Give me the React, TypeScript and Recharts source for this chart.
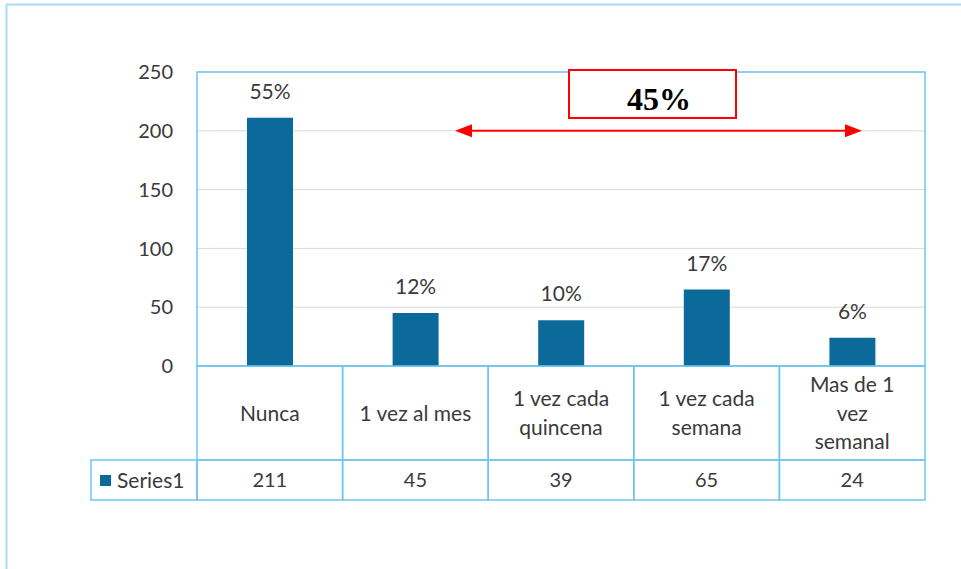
import React from "react";
import { BarChart, Bar, XAxis, YAxis, CartesianGrid, LabelList } from "recharts";

const categories = ["Nunca", "1 vez al mes", "1 vez cada quincena", "1 vez cada semana", "Mas de 1 vez semanal"];
const categoryLines = [["Nunca"], ["1 vez al mes"], ["1 vez cada", "quincena"], ["1 vez cada", "semana"], ["Mas de 1", "vez", "semanal"]];
const series1 = [211, 45, 39, 65, 24];
const percentLabels = ["55%", "12%", "10%", "17%", "6%"];
const yTicks = [0, 50, 100, 150, 200, 250];
const seriesName = "Series1";
const bracketLabel = "45%";

const data = categories.map((c, i) => ({ name: c, value: series1[i], pct: percentLabels[i] }));

const W = 961;
const H = 569;
const PL = 197;
const PT = 72;
const PR = 925;
const PB = 366;
const PW = PR - PL;
const YW = 60;
const XH = 134;
const ROW1_H = 94;
const ROW2_H = 40;
const LEG_L = 91;

const BAR = "#0b6a9a";
const BORDER = "#6ec6ef";
const TXT = "#3a3a3a";
const FONT = "Lato, 'Open Sans', sans-serif";
const FS = 20;
const FS_T = 21;

const TableTick = (props: any) => {
  const { x, payload } = props;
  const idx = categories.indexOf(payload.value);
  const colW = PW / categories.length;
  const left = x - colW / 2;
  const lines = categoryLines[idx] || [payload.value];
  const lh = 28.5;
  const cy = PB + ROW1_H / 2;
  return (
    <g>
      <rect x={left} y={PB} width={colW} height={ROW1_H} fill="none" stroke={BORDER} strokeWidth={1.5} />
      <rect x={left} y={PB + ROW1_H} width={colW} height={ROW2_H} fill="none" stroke={BORDER} strokeWidth={1.5} />
      {lines.map((ln, i) => (
        <text
          key={i}
          x={x}
          y={cy + (i - (lines.length - 1) / 2) * lh + FS_T * 0.36}
          textAnchor="middle"
          fill={TXT}
          fontSize={FS_T}
          fontFamily={FONT}
        >
          {ln}
        </text>
      ))}
      <text x={x} y={PB + ROW1_H + ROW2_H / 2 + FS * 0.36} textAnchor="middle" fill={TXT} fontSize={FS} fontFamily={FONT}>
        {series1[idx]}
      </text>
    </g>
  );
};

const Overlay = () => {
  const arrowY = PB - (200 / 250) * (PB - PT);
  const aL = 455;
  const aR = 862;
  const head = 17;
  const hh = 6.5;
  return (
    <g>
      <rect x={PL} y={PT} width={PW} height={PB - PT} fill="none" stroke={BORDER} strokeWidth={1.5} />
      <rect x={LEG_L} y={PB + ROW1_H} width={PL - LEG_L} height={ROW2_H} fill="none" stroke={BORDER} strokeWidth={1.5} />
      <rect x={100} y={475} width={11} height={11} fill={BAR} />
      <text x={117} y={480 + FS_T * 0.36} fill={TXT} fontSize={FS_T} fontFamily={FONT}>
        {seriesName}
      </text>
      <line x1={aL + head - 2} y1={arrowY} x2={aR - head + 2} y2={arrowY} stroke="#ff0000" strokeWidth={2} />
      <polygon points={`${aL},${arrowY} ${aL + head},${arrowY - hh} ${aL + head},${arrowY + hh}`} fill="#ff0000" />
      <polygon points={`${aR},${arrowY} ${aR - head},${arrowY - hh} ${aR - head},${arrowY + hh}`} fill="#ff0000" />
      <rect x={569} y={70} width={167} height={48} fill="#ffffff" stroke="#ff0000" strokeWidth={2} />
      <text x={659} y={110} textAnchor="middle" fill="#000000" fontSize={32} fontWeight="bold" fontFamily="'Liberation Serif', 'DejaVu Serif', serif">
        {bracketLabel}
      </text>
      <rect x={6.5} y={4.5} width={1000} height={700} fill="none" stroke="#a6dcf7" strokeWidth={2} />
    </g>
  );
};

export default function App() {
  return (
    <div style={{ position: "absolute", left: 0, top: 0, width: W, height: H, background: "#ffffff" }}>
      <BarChart
        width={W}
        height={H}
        data={data}
        margin={{ top: PT, right: W - PR, left: PL - YW, bottom: H - PB - XH }}
        barSize={46}
      >
        <CartesianGrid vertical={false} stroke="#d9d9d9" strokeWidth={1} />
        <YAxis
          width={YW}
          domain={[0, 250]}
          ticks={yTicks}
          interval={0}
          axisLine={false}
          tickLine={false}
          tickMargin={18}
          tick={{ fill: TXT, fontSize: FS, fontFamily: FONT }}
        />
        <XAxis
          dataKey="name"
          height={XH}
          axisLine={false}
          tickLine={false}
          interval={0}
          tick={<TableTick />}
        />
        <Bar dataKey="value" fill={BAR} isAnimationActive={false}>
          <LabelList dataKey="pct" position="top" offset={19} fill={TXT} fontSize={FS_T} fontFamily={FONT} />
        </Bar>
        <Overlay />
      </BarChart>
    </div>
  );
}
